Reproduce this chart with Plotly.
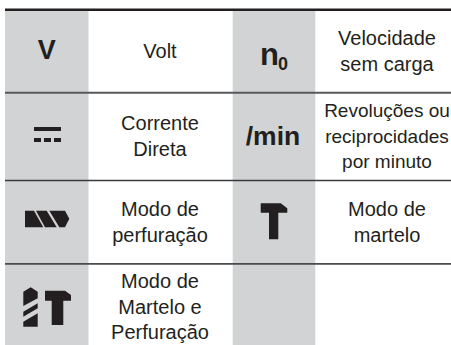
import plotly.graph_objects as go

# Table content
symbols = ["V", "n", "0", "/min"]
descriptions = [
    ["Volt"],
    ["Velocidade", "sem carga"],
    ["Corrente", "Direta"],
    ["Revoluções ou", "reciprocidades", "por minuto"],
    ["Modo de", "perfuração"],
    ["Modo de", "martelo"],
    ["Modo de", "Martelo e", "Perfuração"],
]

W, H = 451, 345
INK = "#231f20"
GREY = "#d1d3d4"
FONT = "Liberation Sans"
LINE = 25.5
desc_cx = [160, 387, 160, 387, 160, 387, 160]
desc_cy = [53, 53, 138, 138, 224, 224, 308.5]
desc_size = [20, 20, 20, 19, 20, 20, 20]
sym_pos = [(46.7, 52.5), (269.5, 57), (283, 65), (273, 138.5)]
sym_size = [27, 31, 18, 26.5]

icons = [
    "M34,127 L61,127 L61,131 L34,131 Z",
    "M34,138 L41,138 L41,142 L34,142 Z",
    "M44,138 L51,138 L51,142 L44,142 Z",
    "M54,138 L61,138 L61,142 L54,142 Z",
    "M25,210.7 L34,210.7 L43.3,227.3 L25,227.3 Z",
    "M36,210.7 L46.7,210.7 L56.7,227.3 L45,227.3 Z",
    "M49.3,210.7 L65,210.7 L69.3,218.7 L65,227.3 L59.3,227.3 Z",
    "M260.7,203.3 L280.7,203.3 L287.3,208.3 L287.3,212.7 L278.3,212.7 L278.3,239.3 L269,239.3 L269,212.7 L260.7,212.7 Z",
    "M45,290.7 L65,290.7 L71,295 L71,300.7 L63.3,300.7 L63.3,325 L51.7,325 L51.7,300.7 L45,300.7 Z",
    "M23.3,291.7 L30.7,287.3 L37.7,291.7 L37.7,298.3 L23.3,306 Z",
    "M37.7,303.3 L23.3,311.7 L23.3,316.7 L37.7,308.3 Z",
    "M37.7,313.3 L23.3,321.7 L23.3,326.7 L37.7,326.7 Z",
]

shapes = [
    dict(type="rect", x0=5, x1=88.5, y0=10, y1=H, fillcolor=GREY, line_width=0, layer="below"),
    dict(type="rect", x0=232.7, x1=315.3, y0=10, y1=H, fillcolor=GREY, line_width=0, layer="below"),
    dict(type="line", x0=5, x1=W, y0=9.8, y1=9.8, line=dict(color=INK, width=2.6)),
    dict(type="line", x0=5, x1=W, y0=92.8, y1=92.8, line=dict(color="#58595b", width=2)),
    dict(type="line", x0=5, x1=W, y0=180.4, y1=180.4, line=dict(color="#3a3a3c", width=1.5)),
    dict(type="line", x0=5, x1=W, y0=263.8, y1=263.8, line=dict(color="#4a4a4c", width=1.8)),
]
for p in icons:
    shapes.append(dict(type="path", path=p, fillcolor=INK, line_width=0))

fig = go.Figure()

xs, ys, ts, ss = [], [], [], []
for lines, cx, cy, sz in zip(descriptions, desc_cx, desc_cy, desc_size):
    top = cy - LINE * (len(lines) - 1) / 2
    for i, t in enumerate(lines):
        xs.append(cx)
        ys.append(top + i * LINE)
        ts.append(t)
        ss.append(sz)
fig.add_trace(go.Scatter(x=xs, y=ys, text=ts, mode="text", textposition="middle center", cliponaxis=False,
                         textfont=dict(family=FONT, size=ss, color=INK), hoverinfo="skip"))
for s, (x, y), sz in zip(symbols, sym_pos, sym_size):
    fig.add_trace(go.Scatter(x=[x], y=[y], text=[s], mode="text", textposition="middle center", cliponaxis=False,
                             textfont=dict(family=FONT, size=sz, color=INK, weight="bold"), hoverinfo="skip"))

fig.update_layout(
    width=W, height=H, margin=dict(l=0, r=0, t=0, b=0),
    paper_bgcolor="white", plot_bgcolor="white", showlegend=False, shapes=shapes,
    xaxis=dict(range=[0, W], visible=False, fixedrange=True),
    yaxis=dict(range=[H, 0], visible=False, fixedrange=True),
)
fig.write_html("out.html", config=dict(displayModeBar=False),
               post_script="document.body.style.margin='0';document.documentElement.style.overflow='hidden';")
